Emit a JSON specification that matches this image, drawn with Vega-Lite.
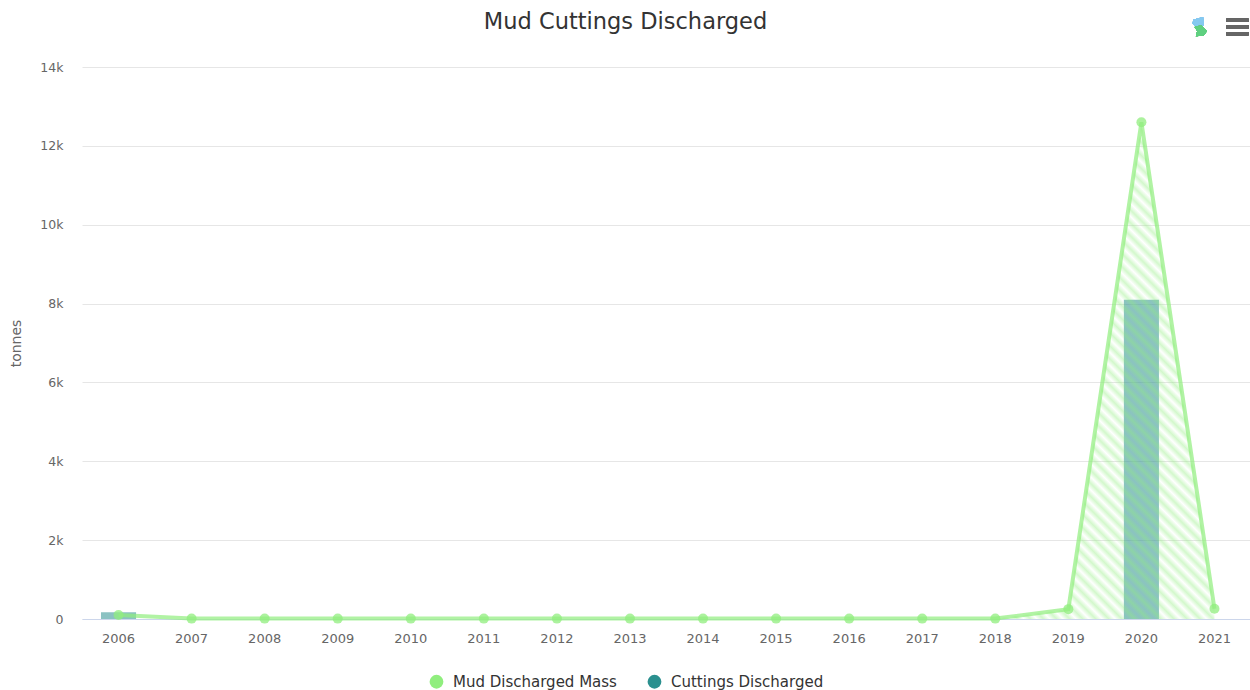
{
"$schema":"https://vega.github.io/schema/vega-lite/v6.json",
"width":1169,"height":552,
"autosize":{"type":"none"},
"padding":{"left":82,"top":67,"right":0,"bottom":71},
"background":"white",
"title":{"text":"Mud Cuttings Discharged","font":"DejaVu Sans","fontSize":22.5,"fontWeight":"normal","color":"#333333","anchor":"middle","dx":-41,"offset":-16},
"config":{"view":{"stroke":null},"font":"DejaVu Sans"},
"data":{"values":[
{"year":"2006","series":"Mud Discharged Mass","value":100},
{"year":"2007","series":"Mud Discharged Mass","value":10},
{"year":"2008","series":"Mud Discharged Mass","value":10},
{"year":"2009","series":"Mud Discharged Mass","value":10},
{"year":"2010","series":"Mud Discharged Mass","value":10},
{"year":"2011","series":"Mud Discharged Mass","value":10},
{"year":"2012","series":"Mud Discharged Mass","value":10},
{"year":"2013","series":"Mud Discharged Mass","value":10},
{"year":"2014","series":"Mud Discharged Mass","value":10},
{"year":"2015","series":"Mud Discharged Mass","value":10},
{"year":"2016","series":"Mud Discharged Mass","value":10},
{"year":"2017","series":"Mud Discharged Mass","value":10},
{"year":"2018","series":"Mud Discharged Mass","value":10},
{"year":"2019","series":"Mud Discharged Mass","value":250},
{"year":"2020","series":"Mud Discharged Mass","value":12600},
{"year":"2021","series":"Mud Discharged Mass","value":260},
{"year":"2006","series":"Cuttings Discharged","value":170},
{"year":"2020","series":"Cuttings Discharged","value":8100}
]},
"encoding":{
"x":{"field":"year","type":"ordinal","title":null,
"scale":{"type":"band","domain":["2006","2007","2008","2009","2010","2011","2012","2013","2014","2015","2016","2017","2018","2019","2020","2021"],"paddingInner":0.52,"paddingOuter":0.26},
"axis":{"labelAngle":0,"labelFont":"DejaVu Sans","labelFontSize":13,"labelColor":"#666666","labelPadding":13,"ticks":false,"domainColor":"#ccd6eb","domainWidth":1,"grid":false}},
"y":{"field":"value","type":"quantitative","title":"tonnes",
"scale":{"domain":[0,14000],"nice":false},
"axis":{"values":[0,2000,4000,6000,8000,10000,12000,14000],"labelExpr":"datum.value === 0 ? '0' : (datum.value / 1000) + 'k'","labelFont":"DejaVu Sans","labelFontSize":12.5,"labelColor":"#666666","labelPadding":19,"ticks":false,"domain":false,"gridColor":"#e6e6e6","titleFont":"DejaVu Sans","titleFontSize":14,"titleFontWeight":"normal","titleColor":"#666666","titlePadding":16}}
},
"layer":[
{"transform":[{"filter":"datum.series === 'Cuttings Discharged'"}],
"mark":{"type":"bar","fillOpacity":0.55,"cornerRadius":0},
"encoding":{"color":{"field":"series","type":"nominal","title":null,
"scale":{"domain":["Mud Discharged Mass","Cuttings Discharged"],"range":["#90ee7e","#2b908f"]},
"legend":{"orient":"none","legendX":347,"legendY":607,"direction":"horizontal","columns":2,"symbolType":"circle","symbolSize":190,"symbolStrokeWidth":0,"symbolOpacity":1,"labelFont":"DejaVu Sans","labelFontSize":15,"labelFontWeight":"normal","labelColor":"#333333","labelLimit":300,"columnPadding":30,"labelOffset":9}}}},
{"transform":[{"filter":"datum.series === 'Mud Discharged Mass'"}],
"mark":{"type":"area","color":{"gradient":"linear","x1":0,"y1":1,"x2":1.3,"y2":0.4107,"stops":[
{"offset":0.512,"color":"#90ee7e00"},{"offset":0.5158,"color":"#90ee7e66"},{"offset":0.5196,"color":"#90ee7e00"},{"offset":0.5234,"color":"#90ee7e66"},{"offset":0.5272,"color":"#90ee7e00"},{"offset":0.531,"color":"#90ee7e66"},{"offset":0.5348,"color":"#90ee7e00"},{"offset":0.5386,"color":"#90ee7e66"},{"offset":0.5424,"color":"#90ee7e00"},{"offset":0.5462,"color":"#90ee7e66"},
{"offset":0.55,"color":"#90ee7e00"},{"offset":0.5538,"color":"#90ee7e66"},{"offset":0.5576,"color":"#90ee7e00"},{"offset":0.5614,"color":"#90ee7e66"},{"offset":0.5652,"color":"#90ee7e00"},{"offset":0.569,"color":"#90ee7e66"},{"offset":0.5728,"color":"#90ee7e00"},{"offset":0.5766,"color":"#90ee7e66"},{"offset":0.5804,"color":"#90ee7e00"},{"offset":0.5842,"color":"#90ee7e66"},{"offset":0.588,"color":"#90ee7e00"},{"offset":0.5918,"color":"#90ee7e66"},{"offset":0.5956,"color":"#90ee7e00"},{"offset":0.5994,"color":"#90ee7e66"},{"offset":0.6032,"color":"#90ee7e00"},{"offset":0.607,"color":"#90ee7e66"},{"offset":0.6108,"color":"#90ee7e00"},{"offset":0.6146,"color":"#90ee7e66"},{"offset":0.6184,"color":"#90ee7e00"},{"offset":0.6222,"color":"#90ee7e66"},{"offset":0.626,"color":"#90ee7e00"},{"offset":0.6298,"color":"#90ee7e66"},{"offset":0.6336,"color":"#90ee7e00"},{"offset":0.6374,"color":"#90ee7e66"},{"offset":0.6412,"color":"#90ee7e00"},{"offset":0.645,"color":"#90ee7e66"},{"offset":0.6488,"color":"#90ee7e00"},{"offset":0.6526,"color":"#90ee7e66"},{"offset":0.6564,"color":"#90ee7e00"},{"offset":0.6602,"color":"#90ee7e66"},{"offset":0.664,"color":"#90ee7e00"},{"offset":0.6678,"color":"#90ee7e66"},{"offset":0.6716,"color":"#90ee7e00"},{"offset":0.6754,"color":"#90ee7e66"},{"offset":0.6792,"color":"#90ee7e00"},{"offset":0.683,"color":"#90ee7e66"},{"offset":0.6868,"color":"#90ee7e00"},{"offset":0.6906,"color":"#90ee7e66"},{"offset":0.6944,"color":"#90ee7e00"},{"offset":0.6982,"color":"#90ee7e66"},{"offset":0.702,"color":"#90ee7e00"},{"offset":0.7058,"color":"#90ee7e66"},{"offset":0.7096,"color":"#90ee7e00"},{"offset":0.7134,"color":"#90ee7e66"},{"offset":0.7172,"color":"#90ee7e00"},{"offset":0.721,"color":"#90ee7e66"},{"offset":0.7248,"color":"#90ee7e00"},{"offset":0.7286,"color":"#90ee7e66"},{"offset":0.7324,"color":"#90ee7e00"},{"offset":0.7362,"color":"#90ee7e66"},{"offset":0.74,"color":"#90ee7e00"},{"offset":0.7438,"color":"#90ee7e66"},{"offset":0.7476,"color":"#90ee7e00"},{"offset":0.7514,"color":"#90ee7e66"},{"offset":0.7552,"color":"#90ee7e00"},{"offset":0.759,"color":"#90ee7e66"},{"offset":0.7628,"color":"#90ee7e00"},{"offset":0.7666,"color":"#90ee7e66"},{"offset":0.7704,"color":"#90ee7e00"},{"offset":0.7742,"color":"#90ee7e66"},{"offset":0.778,"color":"#90ee7e00"},{"offset":0.7818,"color":"#90ee7e66"},{"offset":0.7856,"color":"#90ee7e00"},{"offset":0.7894,"color":"#90ee7e66"},{"offset":0.7932,"color":"#90ee7e00"},{"offset":0.797,"color":"#90ee7e66"},{"offset":0.8008,"color":"#90ee7e00"},{"offset":0.8046,"color":"#90ee7e66"},{"offset":0.8084,"color":"#90ee7e00"},{"offset":0.8122,"color":"#90ee7e66"},{"offset":0.816,"color":"#90ee7e00"},{"offset":0.8198,"color":"#90ee7e66"},{"offset":0.8236,"color":"#90ee7e00"},{"offset":0.8274,"color":"#90ee7e66"},{"offset":0.8312,"color":"#90ee7e00"},{"offset":0.835,"color":"#90ee7e66"},{"offset":0.8388,"color":"#90ee7e00"},{"offset":0.8426,"color":"#90ee7e66"},{"offset":0.8464,"color":"#90ee7e00"},{"offset":0.8502,"color":"#90ee7e66"},{"offset":0.854,"color":"#90ee7e00"},{"offset":0.8578,"color":"#90ee7e66"},{"offset":0.8616,"color":"#90ee7e00"},{"offset":0.8654,"color":"#90ee7e66"},{"offset":0.8692,"color":"#90ee7e00"},{"offset":0.873,"color":"#90ee7e66"},{"offset":0.8768,"color":"#90ee7e00"},{"offset":0.8806,"color":"#90ee7e66"},{"offset":0.8844,"color":"#90ee7e00"},{"offset":0.8882,"color":"#90ee7e66"},{"offset":0.892,"color":"#90ee7e00"}
]}},
"encoding":{}},
{"transform":[{"filter":"datum.series === 'Mud Discharged Mass'"}],
"mark":{"type":"line","strokeWidth":4,"strokeOpacity":0.7},
"encoding":{"color":{"field":"series","type":"nominal","title":null}}},
{"transform":[{"filter":"datum.series === 'Mud Discharged Mass'"}],
"mark":{"type":"point","filled":true,"size":100,"fillOpacity":0.75,"strokeOpacity":0},
"encoding":{"color":{"field":"series","type":"nominal","title":null}}},
{"mark":{"type":"point","filled":true,"opacity":0.9,"xOffset":-16,"color":"#85c9f0","size":170,"shape":"M-0.8,-0.6L0.7,-1L0.8,0.2L0.2,0.9L-0.9,0Z"},
"encoding":{"x":{"datum":"2021","type":"ordinal"},"y":{"datum":15100,"type":"quantitative"}}},
{"mark":{"type":"point","filled":true,"opacity":0.9,"xOffset":-14,"color":"#5fcf80","size":170,"shape":"M-0.9,-0.6L0.1,-0.9L1,0L0.5,0.7L-0.7,0.8L-0.5,0Z"},
"encoding":{"x":{"datum":"2021","type":"ordinal"},"y":{"datum":14913,"type":"quantitative"}}},
{"mark":{"type":"point","filled":true,"opacity":1,"xOffset":23,"color":"#666666","size":484,"shape":"M-1,-0.75H1V-0.45H-1Z M-1,-0.15H1V0.15H-1Z M-1,0.45H1V0.75H-1Z"},
"encoding":{"x":{"datum":"2021","type":"ordinal"},"y":{"datum":15015,"type":"quantitative"}}}
]
}
